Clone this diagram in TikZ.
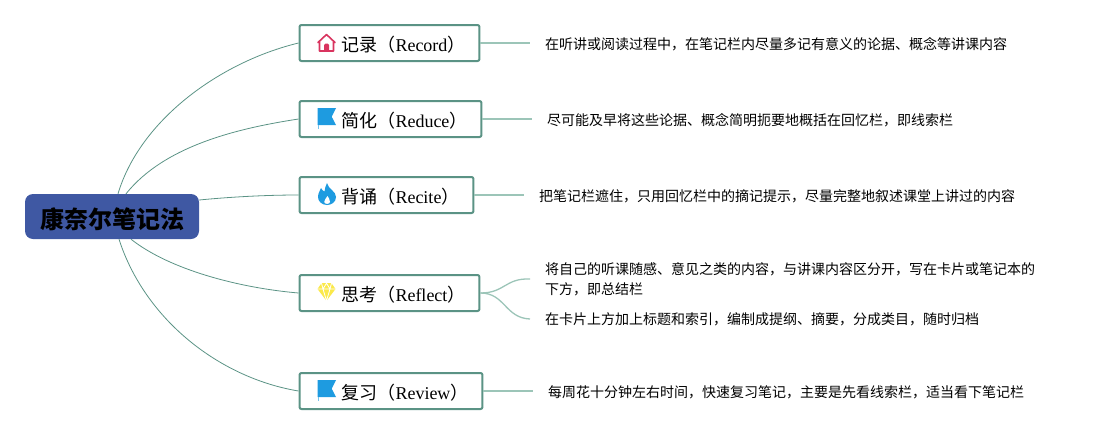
\documentclass[tikz,border=0pt]{standalone}
\usepackage{fontspec}
\setmainfont{Noto Sans CJK SC}
\newfontfamily\latinfont{Liberation Serif}
\usepackage{xcolor}
\definecolor{topicgreen}{HTML}{5B9385}
\definecolor{leafgreen}{HTML}{9CC5B8}
\definecolor{rootblue}{HTML}{3F58A3}
\definecolor{iconblue}{HTML}{1E9BE0}
\definecolor{iconred}{HTML}{D9345F}
\definecolor{iconyellow}{HTML}{FBE94A}
\tikzset{
    x=1pt, y=1pt,
    root-box/.style = {fill=rootblue, rectangle, rounded corners=8pt, minimum width=174pt, minimum height=45pt, inner sep=0pt, text height=26pt, text depth=3pt, font=\fontsize{24}{28}\selectfont\bfseries},
    topic-box/.style = {draw=topicgreen, fill=white, line width=2pt, rectangle, rounded corners=2pt, minimum height=36pt, inner ysep=0pt, inner xsep=14pt, text height=19pt, text depth=2pt, anchor=west, font=\fontsize{18}{22}\selectfont},
    note-text/.style = {anchor=west, align=left, inner xsep=15pt, inner ysep=0pt, yshift=-1pt, font=\fontsize{14}{20}\selectfont},
    root-line/.style = {draw=topicgreen, line width=0.8pt},
    leaf-line/.style = {draw=leafgreen, line width=1.3pt},
    house-icon/.pic = {
        \draw[iconred, line width=1.6pt, line join=round, line cap=round] (-7,1) -- (-7,-8) -- (7,-8) -- (7,1) (-8.5,0.5) -- (0,8.5) -- (8.5,0.5);
        \fill[iconred, rounded corners=1.5pt] (-2.5,-8.5) -- (-2.5,-0.5) -- (2.5,-0.5) -- (2.5,-8.5) -- cycle;
    },
    flag-icon/.pic = {
        \fill[iconblue] (-9,11) -- (9.5,11) -- (5.2,2.3) -- (9.5,-6) -- (-9,-6) -- cycle;
        \fill[iconblue!60] (-9,-6) rectangle (-8,-10);
    },
    flame-icon/.pic = {
        \fill[iconblue] (0,11) .. controls (1,5) and (9,3) .. (9,-3) .. controls (9,-8) and (4.5,-11) .. (0,-11) .. controls (-5.5,-11) and (-9,-7) .. (-9,-3) .. controls (-9,1) and (-7,3) .. (-6,6) .. controls (-5,4) and (-4,3) .. (-2.5,2.5) .. controls (-2,6) and (-1.5,8) .. (0,11) -- cycle;
        \fill[white] (0.5,-2) .. controls (1,-4) and (3.5,-5) .. (3,-8) .. controls (2.5,-10.5) and (-2,-10.5) .. (-2.8,-8) .. controls (-3.2,-6) and (-0.5,-4.5) .. (0.5,-2) -- cycle;
    },
    gem-icon/.pic = {
        \fill[iconyellow] (-5,8.8) -- (5,8.8) -- (9,3) -- (0,-8.8) -- (-9,3) -- cycle;
        \draw[white, line width=0.8pt] (-9,3) -- (9,3) (-3.5,3) -- (0,-8.8) -- (3.5,3) (-5,8.8) -- (-3.5,3) -- (0,8.8) -- (3.5,3) -- (5,8.8);
    },
}

\begin{document}
\begin{tikzpicture}
\useasboundingbox (0,0) rectangle (1105,-434);

\node [root-box] (root) at (112,-216.5) {康奈尔笔记法};
\coordinate (root-a) at ([xshift=6pt]root.north);
\coordinate (root-b) at ([xshift=14pt]root.north);
\coordinate (root-c) at ([yshift=16.5pt]root.east);
\coordinate (root-d) at ([xshift=19pt]root.south);
\coordinate (root-e) at ([xshift=7pt]root.south);

% topics
\node [topic-box] (record) at (298.5,-43) {\hspace*{28pt}记录（{\latinfont Record}）};
\node [topic-box] (reduce) at (298.5,-119) {\hspace*{28pt}简化（{\latinfont Reduce}）};
\node [topic-box] (recite) at (298.5,-195) {\hspace*{28pt}背诵（{\latinfont Recite}）};
\node [topic-box] (reflect) at (298.5,-293) {\hspace*{28pt}思考（{\latinfont Reflect}）};
\node [topic-box] (review) at (298.5,-391) {\hspace*{28pt}复习（{\latinfont Review}）};

\pic at (326.5,-43) {house-icon};
\pic at (326.5,-119) {flag-icon};
\pic at (327,-194) {flame-icon};
\pic at (326.5,-292) {gem-icon};
\pic at (326.5,-391) {flag-icon};

% notes
\node [note-text] (record-note) at (530,-43) {在听讲或阅读过程中，在笔记栏内尽量多记有意义的论据、概念等讲课内容};
\node [note-text] (reduce-note) at (532,-119) {尽可能及早将这些论据、概念简明扼要地概括在回忆栏，即线索栏};
\node [note-text] (recite-note) at (524,-195) {把笔记栏遮住，只用回忆栏中的摘记提示，尽量完整地叙述课堂上讲过的内容};
\node [note-text] (reflect-note-a) at (530,-278) {将自己的听课随感、意见之类的内容，与讲课内容区分开，写在卡片或笔记本的\\下方，即总结栏};
\node [note-text] (reflect-note-b) at (530,-318) {在卡片上方加上标题和索引，编制成提纲、摘要，分成类目，随时归档};
\node [note-text] (review-note) at (533,-391) {每周花十分钟左右时间，快速复习笔记，主要是先看线索栏，适当看下笔记栏};

% connectors
\draw [root-line] (root-a) .. controls (140,-120) and (220,-62) .. (record.west);
\draw [root-line] (root-b) .. controls (165,-145) and (240,-128) .. (reduce.west);
\draw [root-line] (root-c) .. controls (230,-197) and (265,-195) .. (recite.west);
\draw [root-line] (root-d) .. controls (170,-270) and (240,-288) .. (reflect.west);
\draw [root-line] (root-e) .. controls (145,-320) and (220,-378) .. (review.west);

\draw [leaf-line] (record.east) -- (record.east -| record-note.west);
\draw [leaf-line] (reduce.east) -- (reduce.east -| reduce-note.west);
\draw [leaf-line] (recite.east) -- (recite.east -| recite-note.west);
\draw [leaf-line] (review.east) -- (review.east -| review-note.west);
\draw [leaf-line] (reflect.east) .. controls (505,-293) and (505,-278) .. (reflect-note-a.west);
\draw [leaf-line] (reflect.east) .. controls (505,-293) and (505,-318) .. (reflect-note-b.west);
\end{tikzpicture}
\end{document}
